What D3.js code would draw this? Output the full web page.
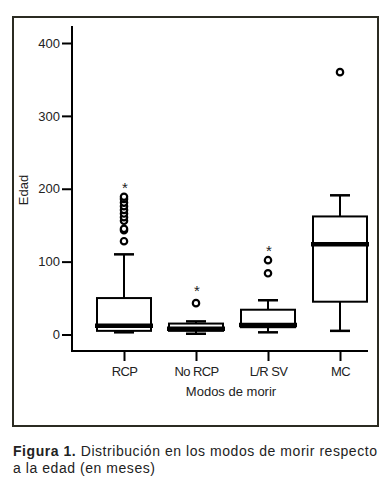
<!DOCTYPE html>
<html>
<head>
<meta charset="utf-8">
<script src="https://cdn.jsdelivr.net/npm/d3@7.9.0/dist/d3.min.js"></script>
<style>
  body { margin: 0; background: #fff; }
  svg { display: block; font-family: "Liberation Sans", Arial, sans-serif; }
</style>
</head>
<body>
<svg id="chart" width="390" height="485"></svg>
<script>
// data (edad en meses)
const categories = ['RCP', 'No RCP', 'L/R SV', 'MC'];
const whiskerLow = [3, 1, 3, 5];
const q1 = [5, 5, 10, 45];
const median = [12, 8, 13, 124];
const q3 = [50, 15, 34, 162];
const whiskerHigh = [110, 18, 47, 191];
const outliers = [
  [128, 143, 145, 156, 161, 166, 171, 176, 181, 186, 189],
  [43],
  [84, 102],
  [360]
];
const extremes = [[204], [62], [118], []];
const yTicks = [0, 100, 200, 300, 400];

const svg = d3.select('#chart');

// outer frame
svg.append('rect')
  .attr('x', 13).attr('y', 17)
  .attr('width', 365).attr('height', 409)
  .attr('fill', 'none')
  .attr('stroke', '#2b2b22')
  .attr('stroke-width', 2);

let x = d3.scalePoint().domain(categories).range([124, 340]);
let y = d3.scaleLinear().domain([0, 400]).range([334.5, 43]);

const boxW = 54, capW = 20;

// y axis
let yAxis = d3.axisLeft(y).tickValues(yTicks).tickSize(10).tickPadding(2);
let gy = svg.append('g').attr('transform', 'translate(72,0)').call(yAxis);
gy.select('.domain').remove();
gy.selectAll('line').attr('stroke', '#000').attr('stroke-width', 2);
gy.selectAll('text').attr('font-size', 13).attr('fill', '#222')
  .attr('font-family', '"Liberation Sans", Arial, sans-serif');
svg.append('line').attr('x1', 72).attr('x2', 72).attr('y1', 26).attr('y2', 352)
  .attr('stroke', '#000').attr('stroke-width', 2);

// x axis
let xAxis = d3.axisBottom(x).tickSize(10).tickPadding(6);
let gx = svg.append('g').attr('transform', 'translate(0,351)').call(xAxis);
gx.select('.domain').remove();
gx.selectAll('line').attr('stroke', '#000').attr('stroke-width', 2);
gx.selectAll('text').attr('font-size', 13).attr('fill', '#222')
  .attr('letter-spacing', -0.6)
  .attr('font-family', '"Liberation Sans", Arial, sans-serif');
svg.append('line').attr('x1', 71).attr('x2', 368).attr('y1', 351).attr('y2', 351)
  .attr('stroke', '#000').attr('stroke-width', 2);

// axis titles
svg.append('text')
  .attr('transform', 'translate(28,190) rotate(-90)')
  .attr('text-anchor', 'middle')
  .attr('font-size', 13).attr('fill', '#222')
  .text('Edad');
svg.append('text')
  .attr('x', 231).attr('y', 396)
  .attr('text-anchor', 'middle')
  .attr('font-size', 13).attr('fill', '#222')
  .text('Modos de morir');

// boxes
categories.forEach((c, i) => {
  let cx = x(c);
  let g = svg.append('g');
  // whiskers
  g.append('line').attr('x1', cx).attr('x2', cx)
    .attr('y1', y(q3[i])).attr('y2', y(whiskerHigh[i]))
    .attr('stroke', '#000').attr('stroke-width', 2);
  g.append('line').attr('x1', cx).attr('x2', cx)
    .attr('y1', y(q1[i])).attr('y2', y(whiskerLow[i]))
    .attr('stroke', '#000').attr('stroke-width', 2);
  [whiskerHigh[i], whiskerLow[i]].forEach(v => {
    g.append('line').attr('x1', cx - capW / 2).attr('x2', cx + capW / 2)
      .attr('y1', y(v)).attr('y2', y(v))
      .attr('stroke', '#000').attr('stroke-width', 2.5);
  });
  // box
  g.append('rect')
    .attr('x', cx - boxW / 2).attr('width', boxW)
    .attr('y', y(q3[i])).attr('height', y(q1[i]) - y(q3[i]))
    .attr('fill', '#fff').attr('stroke', '#000').attr('stroke-width', 2);
  // median
  g.append('line').attr('x1', cx - boxW / 2 - 2).attr('x2', cx + boxW / 2 + 2)
    .attr('y1', y(median[i])).attr('y2', y(median[i]))
    .attr('stroke', '#000').attr('stroke-width', 4.5);
  // outliers
  g.selectAll('circle.out').data(outliers[i]).join('circle')
    .attr('class', 'out')
    .attr('cx', cx).attr('cy', d => y(d)).attr('r', 3.2)
    .attr('fill', '#fff').attr('stroke', '#000').attr('stroke-width', 2.2);
  // extremes
  g.selectAll('text.ext').data(extremes[i]).join('text')
    .attr('class', 'ext')
    .attr('x', cx + 1).attr('y', d => y(d) + 7)
    .attr('text-anchor', 'middle')
    .attr('font-size', 15).attr('fill', '#222')
    .text('*');
});

// caption
let cap = svg.append('text').attr('x', 13).attr('y', 456)
  .attr('font-size', 14).attr('fill', '#222').attr('letter-spacing', 0.55);
cap.append('tspan').attr('font-weight', 'bold').text('Figura 1.');
cap.append('tspan').text(' Distribución en los modos de morir respecto');
svg.append('text').attr('x', 13).attr('y', 473)
  .attr('font-size', 14).attr('fill', '#222').attr('letter-spacing', 0.55)
  .text('a la edad (en meses)');
</script>
</body>
</html>
